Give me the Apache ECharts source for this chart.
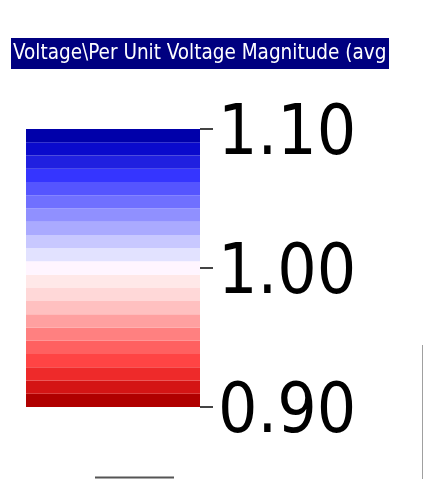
<!DOCTYPE html>
<html>
<head>
<meta charset="utf-8">
<script src="https://cdn.jsdelivr.net/npm/echarts@6/dist/echarts.min.js"></script>
<style>
  html, body { margin: 0; padding: 0; background: #fff; }
  #chart { width: 424px; height: 479px; }
</style>
</head>
<body>
<div id="chart"></div>
<script>
// legend title (clipped in the original)
const titleText = 'Voltage\\Per Unit Voltage Magnitude (avg)'
// band edges of the colour bar, bottom to top (21 bands)
const bandEdges = [0.9000, 0.9095, 0.9190, 0.9286, 0.9381, 0.9476, 0.9571, 0.9667,
  0.9762, 0.9857, 0.9952, 1.0048, 1.0143, 1.0238, 1.0333, 1.0429, 1.0524, 1.0619,
  1.0714, 1.0810, 1.0905, 1.1000]
// band colours, bottom (low voltage) to top (high voltage)
const bandColors = ['#b00000', '#d41414', '#ee2a2a', '#ff4444', '#ff6060', '#ff8080',
  '#ffa0a0', '#ffc0c0', '#ffd8d8', '#ffe8e8', '#fff5ff', '#e2e2ff', '#c8c8ff',
  '#aaaaff', '#9090ff', '#7070ff', '#5555ff', '#3535ff', '#2020e0', '#0a0acc', '#0000aa']
// tick labels
const tickMin = 0.9
const tickMax = 1.1
const tickStep = 0.1

const bands = []
for (let i = 0; i < bandColors.length; i++) {
  bands.push([bandEdges[i], bandEdges[i + 1]])
}

const chart = echarts.init(document.getElementById('chart'), null, { renderer: 'canvas' })

const option = {
  animation: false,
  backgroundColor: '#fff',
  grid: { left: 26, top: 129, width: 174, height: 278 },
  xAxis: { type: 'value', min: 0, max: 1, show: false },
  yAxis: {
    type: 'value',
    position: 'right',
    min: tickMin,
    max: tickMax,
    interval: tickStep,
    axisLine: { show: false, onZero: false },
    splitLine: { show: false },
    axisTick: { show: true, length: 13, lineStyle: { color: '#444', width: 2 } },
    axisLabel: {
      margin: 18,
      color: '#000',
      formatter: v => '{v|' + v.toFixed(2) + '}',
      rich: {
        v: {
          color: '#000',
          fontSize: 69,
          fontFamily: 'DejaVu Sans Condensed',
          padding: [15, 0, 0, 0]
        }
      }
    }
  },
  graphic: [
    {
      type: 'rect',
      shape: { x: 11, y: 38, width: 378, height: 31 },
      style: { fill: '#000080' },
      z: 10
    },
    {
      type: 'text',
      x: 13,
      y: 54,
      style: {
        text: titleText,
        fill: '#fff',
        fontSize: 20.5,
        fontFamily: 'DejaVu Sans Condensed',
        verticalAlign: 'middle',
        width: 376,
        overflow: 'truncate',
        ellipsis: ''
      },
      z: 11
    },
    {
      type: 'line',
      shape: { x1: 95, y1: 477.5, x2: 174, y2: 477.5 },
      style: { stroke: '#555', lineWidth: 2 }
    },
    {
      type: 'line',
      shape: { x1: 422.5, y1: 345, x2: 422.5, y2: 479 },
      style: { stroke: '#a0a0a0', lineWidth: 1 }
    }
  ],
  series: [{
    type: 'custom',
    dimensions: ['lo', 'hi'],
    encode: { y: ['lo', 'hi'] },
    data: bands,
    renderItem: (params, api) => {
      const cs = params.coordSys
      const yLo = api.coord([0, api.value(0)])[1]
      const yHi = api.coord([0, api.value(1)])[1]
      return {
        type: 'rect',
        shape: { x: cs.x, y: yHi, width: cs.width, height: yLo - yHi },
        style: { fill: bandColors[params.dataIndex] }
      }
    }
  }]
}

chart.setOption(option)
</script>
</body>
</html>
